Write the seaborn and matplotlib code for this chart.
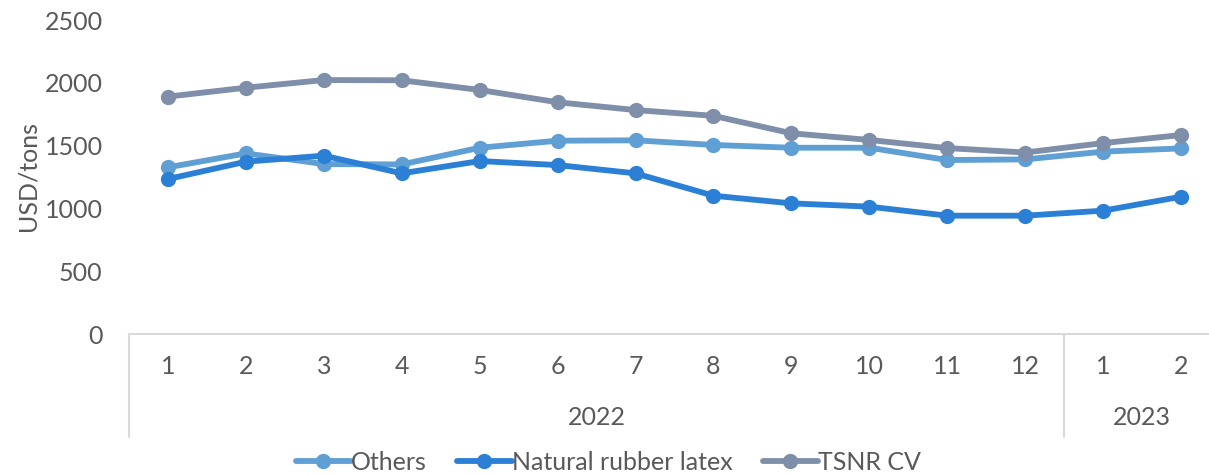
import matplotlib
matplotlib.use("Agg")
import matplotlib.pyplot as plt
import seaborn as sns
import pandas as pd

months = ["1", "2", "3", "4", "5", "6", "7", "8", "9", "10", "11", "12", "1", "2"]
years = ["2022", "2023"]
year_counts = [12, 2]
others = [1327, 1438, 1353, 1350, 1483, 1539, 1542, 1505, 1483, 1483, 1385, 1390, 1452, 1478]
latex = [1234, 1372, 1420, 1279, 1377, 1345, 1279, 1101, 1040, 1014, 942, 942, 982, 1093]
tsnr = [1890, 1961, 2022, 2020, 1943, 1845, 1783, 1737, 1598, 1545, 1480, 1445, 1520, 1584]
series_names = ["Others", "Natural rubber latex", "TSNR CV"]
colors = ["#5F9FD4", "#2B80D6", "#7F8EA9"]

rows = []
for name, vals in zip(series_names, [others, latex, tsnr]):
    for i, v in enumerate(vals):
        rows.append({"series": name, "idx": i, "value": v})
df = pd.DataFrame(rows)

sns.set_theme(style="white")
plt.rcParams["font.family"] = ["Lato", "DejaVu Sans"]
text_color = "#595959"
fs = 18

fig = plt.figure(figsize=(12.09, 4.74), dpi=100)
ax = fig.add_axes([129/1209, 1-334/474, (1220-129)/1209, (334-20)/474])

sns.lineplot(data=df, x="idx", y="value", hue="series", hue_order=series_names,
             palette=colors, marker="o", markersize=11, markeredgewidth=0,
             linewidth=4.2, ax=ax, legend=True)

ax.set_xlim(-0.5, len(months) - 0.5)
ax.set_ylim(0, 2500)
ax.set_yticks([0, 500, 1000, 1500, 2000, 2500])
ax.tick_params(axis="y", labelsize=fs, colors=text_color, length=0, pad=19)
ax.set_xticks([])
ax.set_xlabel("")
ax.set_ylabel("")
fig.text(28/1209, 1-176/474, "USD/tons", rotation=90, ha="center", va="center",
         fontsize=fs, color=text_color)
for s in ["top", "right", "left"]:
    ax.spines[s].set_visible(False)
ax.spines["bottom"].set_color("#D9D9D9")
ax.spines["bottom"].set_linewidth(1.5)

trans = ax.get_xaxis_transform()
for i, m in enumerate(months):
    ax.text(i, -0.105, m, transform=trans, ha="center", va="center",
            fontsize=fs, color=text_color, clip_on=False)

start = 0
bounds = [-0.5]
for y, c in zip(years, year_counts):
    center = start + (c - 1) / 2
    ax.text(center, -0.2675, y, transform=trans, ha="center", va="center",
            fontsize=fs, color=text_color, clip_on=False)
    start += c
    bounds.append(start - 0.5)
for b in bounds:
    ax.plot([b, b], [0, -0.328], transform=trans, color="#D9D9D9", lw=1.5, clip_on=False)

handles, labels = ax.get_legend_handles_labels()
ax.legend_.remove()
fig.legend(handles, labels, loc="center", bbox_to_anchor=(0.503, 0.025), ncol=3,
           frameon=False, fontsize=fs, handlelength=2.2, handletextpad=0.0,
           columnspacing=1.2, labelcolor=text_color)

fig.savefig("out.png", dpi=100)
